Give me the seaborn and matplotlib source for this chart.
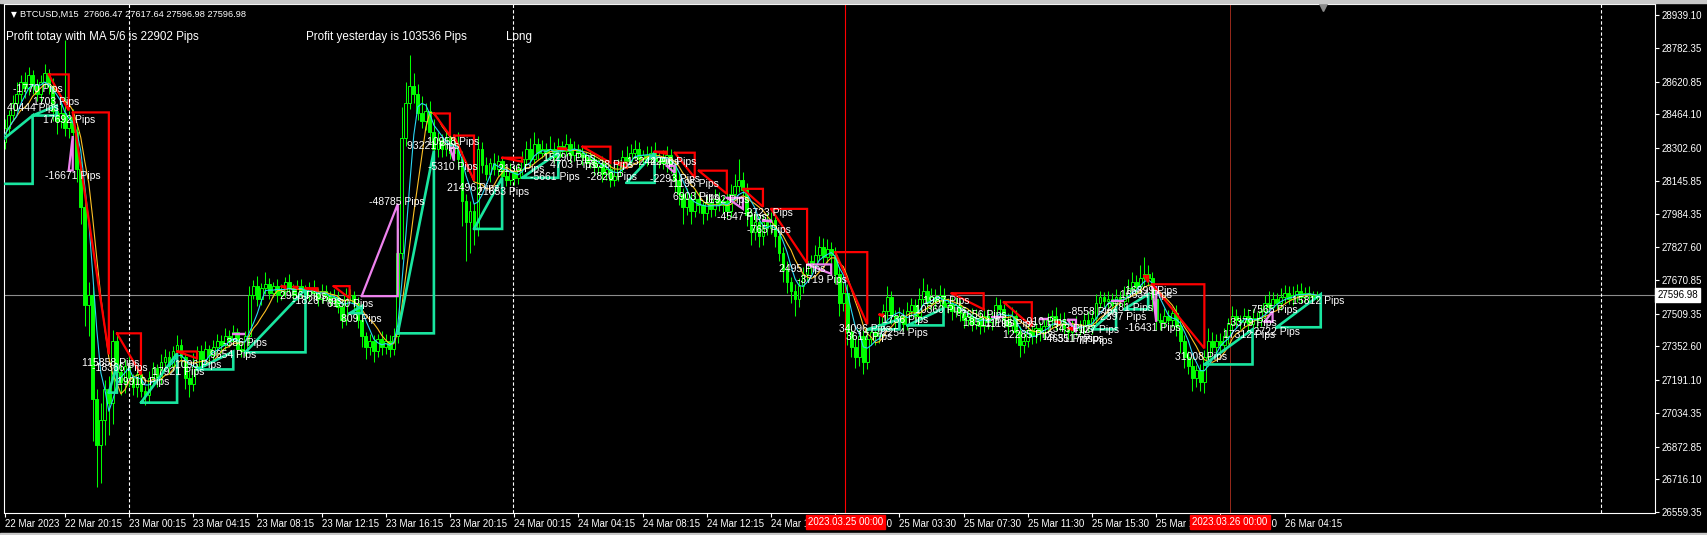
import matplotlib
matplotlib.use("Agg")
import matplotlib.pyplot as plt
import matplotlib.transforms as mtransforms
from matplotlib.patches import Rectangle
import pandas as pd
import seaborn as sns

# M15 closes, one per bar (bar 0 = 22 Mar 16:15)
close = [
    28330, 28400, 28460, 28520, 28560, 28620, 28590, 28650, 28600, 28560,
    28620, 28660, 28600, 28480, 28430, 28470, 28400, 28450, 28380, 28200,
    28020, 27550, 27600, 27100, 26880, 27000, 27150, 27080, 27380, 27230,
    27180, 27260, 27200, 27160, 27220, 27140, 27120, 27200, 27250, 27200,
    27280, 27300, 27260, 27330, 27360, 27300, 27200, 27170, 27260, 27330,
    27290, 27340, 27310, 27350, 27380, 27360, 27400, 27380, 27420, 27340,
    27330, 27400, 27600, 27640, 27580, 27630, 27650, 27610, 27640, 27600,
    27620, 27660, 27630, 27600, 27640, 27620, 27600, 27630, 27610, 27580,
    27620, 27600, 27570, 27590, 27540, 27480, 27600, 27600, 27560, 27480,
    27400, 27350, 27380, 27330, 27390, 27350, 27380, 27340, 27400, 27800,
    28350, 28520, 28600, 28560, 28470, 28430, 28480, 28380, 28300, 28340,
    28300, 28350, 28280, 28320, 28250, 28050, 27950, 28000, 27920, 28300,
    28220, 28180, 28230, 28200, 28240, 28170, 28150, 28190, 28160, 28200,
    28250, 28300, 28250, 28320, 28280, 28300, 28280, 28300, 28260, 28310,
    28290, 28320, 28270, 28300, 28280, 28260, 28230, 28250, 28210, 28230,
    28180, 28200, 28150, 28170, 28220, 28260, 28240, 28280, 28300, 28250,
    28270, 28250, 28280, 28240, 28260, 28230, 28270, 28220, 28150, 28080,
    28020, 28060, 28000, 28060, 28030, 27990, 28040, 28010, 28060, 28030,
    28050, 28000, 28080, 28120, 28150, 28100, 27980, 27900, 27950, 27880,
    27950, 27920, 27960, 27880, 27800, 27720, 27660, 27620, 27580, 27640,
    27700, 27760, 27740, 27790, 27830, 27780, 27820, 27790, 27700, 27560,
    27610, 27420, 27350, 27300, 27400, 27280, 27390, 27420, 27400, 27460,
    27520, 27590, 27500, 27470, 27500, 27460, 27520, 27550, 27500, 27580,
    27620, 27560, 27590, 27570, 27600, 27540, 27560, 27520, 27550, 27510,
    27480, 27500, 27460, 27490, 27450, 27500, 27470, 27490, 27550, 27530,
    27480, 27450, 27500, 27420, 27360, 27380, 27430, 27400, 27440, 27420,
    27450, 27480, 27500, 27460, 27480, 27440, 27420, 27460, 27430, 27450,
    27480, 27450, 27490, 27560, 27590, 27570, 27580, 27550, 27590, 27570,
    27600, 27630, 27660, 27640, 27680, 27700, 27680, 27580, 27480, 27470,
    27500, 27480, 27510, 27450, 27380, 27300, 27260, 27200, 27240, 27180,
    27300, 27380, 27350, 27380, 27360, 27400, 27460, 27500, 27480, 27470,
    27500, 27460, 27490, 27480, 27520, 27560, 27540, 27580, 27560, 27590,
    27610, 27580, 27600, 27620, 27590, 27610, 27600, 27590, 27596.98,
]
first_open = 28300

wick_hi = [
    30, 40, 25, 35, 60, 30, 45, 40, 25, 35,
    30, 45, 20, 40, 30, 50, 350, 30, 40, 30,
    40, 30, 60, 40, 50, 80, 40, 60, 50, 30,
    40, 30, 45, 20, 30, 40, 25, 35, 30, 20,
    35, 40, 30, 25, 45, 30, 20, 35, 60, 25,
    30, 40, 20, 35, 30, 25, 40, 30, 35, 20,
    30, 25, 40, 30, 50, 25, 60, 30, 20, 35,
    30, 25, 40, 20, 30, 35, 25, 30, 40, 20,
    30, 25, 20, 35, 30, 40, 30, 25, 20, 30,
    25, 20, 30, 25, 20, 35, 30, 25, 40, 120,
    150, 100, 150, 60, 50, 80, 40, 50, 60, 40,
    30, 40, 50, 30, 60, 40, 30, 50, 40, 60,
    30, 40, 25, 50, 30, 20, 35, 40, 25, 30,
    40, 35, 50, 60, 30, 40, 25, 60, 30, 40,
    25, 50, 30, 35, 20, 30, 25, 40, 30, 20,
    35, 30, 25, 40, 30, 35, 50, 40, 40, 30,
    25, 40, 30, 50, 25, 35, 40, 30, 25, 40,
    30, 50, 25, 40, 30, 25, 35, 30, 45, 30,
    25, 40, 50, 60, 100, 40, 35, 30, 40, 25,
    30, 40, 35, 30, 25, 30, 40, 25, 30, 40,
    35, 40, 30, 50, 50, 40, 45, 30, 40, 35,
    50, 40, 30, 40, 35, 30, 40, 30, 25, 40,
    35, 50, 30, 25, 40, 30, 45, 35, 30, 50,
    60, 30, 40, 35, 45, 30, 25, 30, 40, 25,
    30, 25, 35, 40, 30, 35, 30, 25, 40, 30,
    25, 30, 40, 25, 30, 35, 30, 40, 25, 30,
    35, 30, 25, 40, 30, 35, 30, 25, 40, 30,
    30, 40, 35, 45, 30, 25, 40, 30, 35, 30,
    40, 45, 50, 35, 60, 80, 40, 30, 25, 30,
    35, 25, 30, 40, 30, 25, 30, 35, 25, 30,
    35, 60, 40, 30, 35, 40, 30, 45, 30, 25,
    35, 30, 40, 25, 30, 40, 60, 35, 30, 40,
    35, 30, 40, 30, 35, 25, 30, 20, 20,
]

wick_lo = [
    40, 30, 35, 25, 40, 30, 50, 35, 40, 30,
    35, 30, 40, 50, 60, 30, 40, 50, 40, 60,
    80, 100, 150, 200, 200, 180, 120, 150, 100, 80,
    60, 50, 40, 40, 50, 30, 50, 40, 30, 40,
    30, 35, 40, 25, 30, 40, 50, 60, 30, 25,
    40, 30, 35, 25, 30, 40, 25, 30, 20, 40,
    30, 25, 40, 20, 35, 30, 25, 30, 20, 35,
    25, 30, 20, 35, 25, 30, 20, 30, 25, 35,
    20, 30, 25, 20, 30, 40, 25, 30, 35, 40,
    50, 60, 40, 50, 30, 40, 35, 40, 30, 30,
    30, 40, 30, 40, 35, 30, 40, 50, 60, 40,
    40, 35, 30, 40, 50, 120, 190, 150, 80, 40,
    35, 30, 40, 25, 30, 40, 30, 25, 35, 30,
    25, 30, 35, 20, 30, 25, 30, 35, 30, 25,
    30, 25, 35, 30, 25, 40, 30, 25, 35, 30,
    40, 30, 35, 30, 25, 30, 35, 25, 30, 40,
    30, 35, 25, 30, 35, 30, 40, 35, 60, 50,
    80, 40, 60, 30, 40, 50, 30, 40, 35, 30,
    40, 35, 30, 25, 30, 40, 50, 60, 40, 50,
    40, 35, 30, 50, 40, 60, 50, 60, 80, 40,
    30, 35, 40, 30, 25, 35, 30, 40, 50, 60,
    40, 60, 50, 50, 40, 60, 35, 30, 40, 30,
    30, 35, 40, 30, 25, 35, 30, 25, 40, 30,
    25, 35, 30, 40, 30, 35, 30, 40, 25, 35,
    40, 30, 35, 25, 40, 30, 35, 40, 30, 25,
    35, 40, 30, 50, 60, 40, 30, 35, 30, 40,
    30, 35, 40, 30, 35, 40, 30, 35, 30, 25,
    35, 30, 40, 30, 25, 30, 35, 40, 30, 25,
    30, 35, 30, 40, 30, 35, 40, 60, 50, 40,
    30, 40, 35, 50, 60, 50, 40, 60, 40, 40,
    50, 40, 35, 30, 40, 30, 35, 30, 40, 35,
    30, 35, 30, 40, 30, 35, 30, 25, 30, 35,
    30, 25, 30, 35, 30, 25, 30, 20, 15,
]

# trades: (entry bar, entry price, exit bar, exit price)
red_trades = [
    (12, 28655, 17, 28482), (18, 28473, 27, 27314), (29, 27415, 35, 27218),
    (44, 27328, 49, 27295), (70, 27640, 71, 27632), (73, 27638, 74, 27630),
    (76, 27631, 79, 27620), (83, 27641, 87, 27583), (108, 28468, 112, 28362),
    (113, 28362, 118, 28146), (125, 28256, 130, 28237), (139, 28300, 141, 28296),
    (145, 28309, 152, 28232), (153, 28232, 156, 28208), (163, 28285, 166, 28275),
    (168, 28280, 173, 28160), (174, 28194, 181, 28083), (185, 28107, 190, 28021),
    (192, 28011, 201, 27751), (208, 27804, 216, 27458), (219, 27505, 220, 27495),
    (237, 27607, 245, 27530), (250, 27564, 257, 27448), (263, 27470, 264, 27462),
    (266, 27440, 267, 27432), (285, 27690, 286, 27660), (287, 27650, 300, 27343),
]
green_trades = [
    (-13, 28131, 8, 28458), (8, 28458, 14, 28506), (27, 27131, 29, 27266),
    (35, 27083, 44, 27319), (49, 27242, 58, 27328), (61, 27324, 76, 27626),
    (87, 27511, 90, 27545), (99, 27415, 108, 28290), (118, 27915, 125, 28160),
    (130, 28160, 139, 28280), (156, 28136, 163, 28280), (216, 27434, 224, 27482),
    (226, 27453, 235, 27535), (272, 27434, 278, 27535), (280, 27530, 286, 27602),
    (300, 27266, 312, 27434), (318, 27444, 329, 27602),
]
violet_trades = [
    (17, 28195, 18, 28360), (58, 27410, 61, 27410), (90, 27593, 99, 28035),
    (112, 28304, 113, 28242), (166, 28217, 168, 28184), (181, 28064, 185, 28011),
    (190, 27955, 192, 27950), (201, 27745, 207, 27700), (247, 27495, 250, 27495),
    (259, 27486, 261, 27486), (266, 27480, 268, 27420), (277, 27570, 280, 27570),
    (287, 27636, 288, 27470), (315, 27470, 317, 27520),
]

label_bars = [3.1, 1.6, 8.1, 10.6, 11.1, 20.3, 22.8, 29.0, 37.8, 43.5, 52.2, 55.4,
              69.7, 72.6, 81.4, 84.9, 91.8, 101.3, 106.3, 106.5, 111.3, 118.8, 124.0,
              135.2, 137.0, 132.0, 146.2, 146.2, 156.1, 161.9, 161.9, 166.4, 167.6,
              174.3, 178.6, 185.0, 186.0, 194.0, 198.5, 209.0, 210.7, 218.7, 219.7,
              227.9, 229.9, 238.4, 239.9, 245.4, 249.8, 254.8, 259.8, 262.5, 260.8,
              266.0, 274.0, 274.8, 267.8, 268.5, 280.2, 279.0, 280.2, 292.7, 304.7,
              305.7, 311.4, 310.9, 321.9]
label_prices = [28583, 28492, 28521, 28439, 28170, 27275, 27251, 27184, 27232, 27261,
                27309, 27367, 27593, 27569, 27554, 27482, 28045, 28314, 28333, 28213,
                28112, 28093, 28203, 28256, 28223, 28165, 28165, 28223, 28237, 28237,
                28155, 28131, 28069, 28054, 27973, 27992, 27910, 27723, 27670, 27434,
                27396, 27415, 27477, 27525, 27569, 27501, 27463, 27458, 27405, 27468,
                27386, 27386, 27434, 27516, 27492, 27535, 27429, 27376, 27617, 27598,
                27439, 27304, 27405, 27463, 27420, 27525, 27569]
label_texts = ["-1770 Pips", "40444 Pips", "1703 Pips", "17692 Pips", "-16671 Pips",
               "115858 Pips", "-18366 Pips", "19910 Pips", "17921 Pips", "1096 Pips",
               "9654 Pips", "-386 Pips", "2956 Pips", "-1826 Pips", "6130 Pips",
               "809 Pips", "-48785 Pips", "93221 Pips", "10958 Pips", "-5310 Pips",
               "21496 Pips", "21653 Pips", "2136 Pips", "15290 Pips", "4703 Pips",
               "-5661 Pips", "-2820 Pips", "7638 Pips", "13242 Pips", "4296 Pips",
               "-2293 Pips", "11195 Pips", "6903 Pips", "-1192 Pips", "-4547 Pips",
               "-2723 Pips", "-765 Pips", "2495 Pips", "-3719 Pips", "34096 Pips",
               "3617 Pips", "-2254 Pips", "1736 Pips", "10360 Pips", "1987 Pips",
               "-7656 Pips", "18511 Pips", "11195 Pips", "12285 Pips", "-910 Pips",
               "-4651 Pips", "-3517 Pips", "1343 Pips", "-8558 Pips", "2397 Pips",
               "-2781 Pips", "-127 Pips", "77 Pips", "16899 Pips", "16634 Pips",
               "-16431 Pips", "31008 Pips", "17312 Pips", "-3379 Pips", "-2722 Pips",
               "-7565 Pips", "15812 Pips"]

price_ticks = [28939.10, 28782.35, 28620.85, 28464.10, 28302.60, 28145.85, 27984.35,
               27827.60, 27670.85, 27509.35, 27352.60, 27191.10, 27034.35, 26872.85,
               26716.10, 26559.35]
time_tick_bars = [1, 16, 32, 48, 64, 80, 96, 112, 128, 144, 160, 176, 192, 208, 224,
                  240, 256, 272, 288, 304, 320]
time_tick_labels = ["22 Mar 2023", "22 Mar 20:15", "23 Mar 00:15", "23 Mar 04:15",
                    "23 Mar 08:15", "23 Mar 12:15", "23 Mar 16:15", "23 Mar 20:15",
                    "24 Mar 00:15", "24 Mar 04:15", "24 Mar 08:15", "24 Mar 12:15",
                    "24 Mar 16:15", "24 Mar 23:30", "25 Mar 03:30", "25 Mar 07:30",
                    "25 Mar 11:30", "25 Mar 15:30", "25 Mar 19:30", "25 Mar 23:30",
                    "26 Mar 04:15"]
separator_bars = [32.1, 127.7, 398.9]
marker_bars = [210.5, 306.4]
marker_labels = ["2023.03.25 00:00", "2023.03.26 00:00"]
last_price = 27596.98

sns.set_style("dark")
plt.rcParams["font.family"] = ["Liberation Sans", "DejaVu Sans"]

W, H = 1707, 535
fig = plt.figure(figsize=(W / 100, H / 100), dpi=100, facecolor="black")
ax = fig.add_axes([4 / W, 1 - 512.5 / H, 1651 / W, 508.1 / H])
ax.set_facecolor("black")
ax.grid(False)
for s in ax.spines.values():
    s.set_visible(True)
    s.set_color("white")
    s.set_linewidth(0.8)

# candles
opens = [first_open] + close[:-1]
df = pd.DataFrame({"bar": range(len(close)), "open": opens, "close": close})
df["high"] = df[["open", "close"]].max(axis=1) + pd.Series(wick_hi)
df["low"] = df[["open", "close"]].min(axis=1) - pd.Series(wick_lo)
up = df["close"] >= df["open"]
lime = "#00ff00"
ax.vlines(df["bar"], df["low"], df["high"], color=lime, lw=0.75, zorder=2)
ax.bar(df["bar"][up], (df["close"] - df["open"])[up], bottom=df["open"][up], width=0.7,
       color="black", edgecolor=lime, linewidth=0.7, zorder=2.1)
ax.bar(df["bar"][~up], (df["open"] - df["close"])[~up], bottom=df["close"][~up], width=0.7,
       color=lime, edgecolor=lime, linewidth=0.7, zorder=2.1)

# moving averages
df["ma_fast"] = df["close"].rolling(5, min_periods=1).mean()
df["ma_slow"] = df["close"].rolling(8, min_periods=1).mean()
sns.lineplot(data=df, x="bar", y="ma_slow", ax=ax, color="#ffc125", lw=0.8, legend=False, zorder=3)
sns.lineplot(data=df, x="bar", y="ma_fast", ax=ax, color="#2ad6f5", lw=0.8, legend=False, zorder=3.1)

# reference lines
ax.axhline(last_price, color="#8c8c8c", lw=0.8, zorder=1)
for b in separator_bars:
    ax.axvline(b, color="white", lw=0.8, ls=(0, (3, 2)), zorder=1)
ax.axvline(marker_bars[0], color="#ff0000", lw=0.8, zorder=1)
ax.axvline(marker_bars[1], color="#b03020", lw=0.6, zorder=1)

# trades
def draw_trades(trades, color, lw):
    for eb, ep, xb, xp in trades:
        ax.plot([eb, xb, xb, eb], [ep, ep, xp, ep], color=color, lw=lw, zorder=4,
                solid_joinstyle="miter")

draw_trades(green_trades, "#19e6a0", 1.9)
draw_trades(violet_trades, "#ee82ee", 1.6)
draw_trades(red_trades, "#ff0000", 1.6)

for b, p, t in zip(label_bars, label_prices, label_texts):
    ax.text(b, p, t, color="white", fontsize=7.5, ha="left", va="center", zorder=6)

# axes
ax.set_xlim(0.87, 412.3)
ax.set_ylim(26556.9, 28990.3)
ax.set_xlabel("")
ax.set_ylabel("")
ax.yaxis.tick_right()
ax.set_yticks(price_ticks)
ax.set_yticklabels([f"{p:.2f}" for p in price_ticks])
ax.tick_params(axis="y", colors="white", labelsize=7, length=3, width=0.8, pad=2,
               direction="out", right=True, left=False)
ax.set_xticks(time_tick_bars)
ax.set_xticklabels(time_tick_labels)
ax.tick_params(axis="x", colors="white", labelsize=7, length=3, width=0.8, pad=2,
               direction="out", bottom=True)
for lab in ax.get_xticklabels():
    lab.set_ha("left")

xtrans = mtransforms.blended_transform_factory(ax.transData, ax.transAxes)
for b, lab in zip(marker_bars, marker_labels):
    ax.text(b, -0.0187, lab, transform=xtrans, ha="center", va="center", color="white",
            fontsize=7, zorder=10, clip_on=False,
            bbox=dict(boxstyle="square,pad=0.2", fc="#ff0000", ec="#ff0000"))

ytrans = mtransforms.blended_transform_factory(ax.transAxes, ax.transData)
ax.text(1.0013, last_price, f"{last_price:.2f}", transform=ytrans, ha="left", va="center",
        color="black", fontsize=7, zorder=10, clip_on=False,
        bbox=dict(boxstyle="square,pad=0.2", fc="white", ec="white"))

# header
ax.text(0.0042, 0.980, "\u25bc", transform=ax.transAxes, color="white", fontsize=5.5,
        ha="left", va="center", family=["DejaVu Sans"])
ax.text(0.0097, 0.980, "BTCUSD,M15  27606.47 27617.64 27596.98 27596.98",
        transform=ax.transAxes, color="white", fontsize=6.7, ha="left", va="center")
ax.text(0.0012, 0.9358, "Profit totay with MA 5/6 is 22902 Pips", transform=ax.transAxes,
        color="white", fontsize=8.4, ha="left", va="center")
ax.text(0.1829, 0.9358, "Profit yesterday is 103536 Pips", transform=ax.transAxes,
        color="white", fontsize=8.4, ha="left", va="center")
ax.text(0.304, 0.9358, "Long", transform=ax.transAxes, color="white", fontsize=8.4,
        ha="left", va="center")
ax.plot([329.6], [0.994], transform=xtrans, marker="v", ms=6, color="#8a8a8a",
        clip_on=False, zorder=10)

fig.patches.append(Rectangle((0, 1 - 3 / H), 1, 3 / H, transform=fig.transFigure,
                             color="#c8c8c8", zorder=0))
fig.patches.append(Rectangle((0, 0), 1, 2.5 / H, transform=fig.transFigure,
                             color="#c8c8c8", zorder=0))

fig.savefig("out.png", dpi=100, facecolor="black")
